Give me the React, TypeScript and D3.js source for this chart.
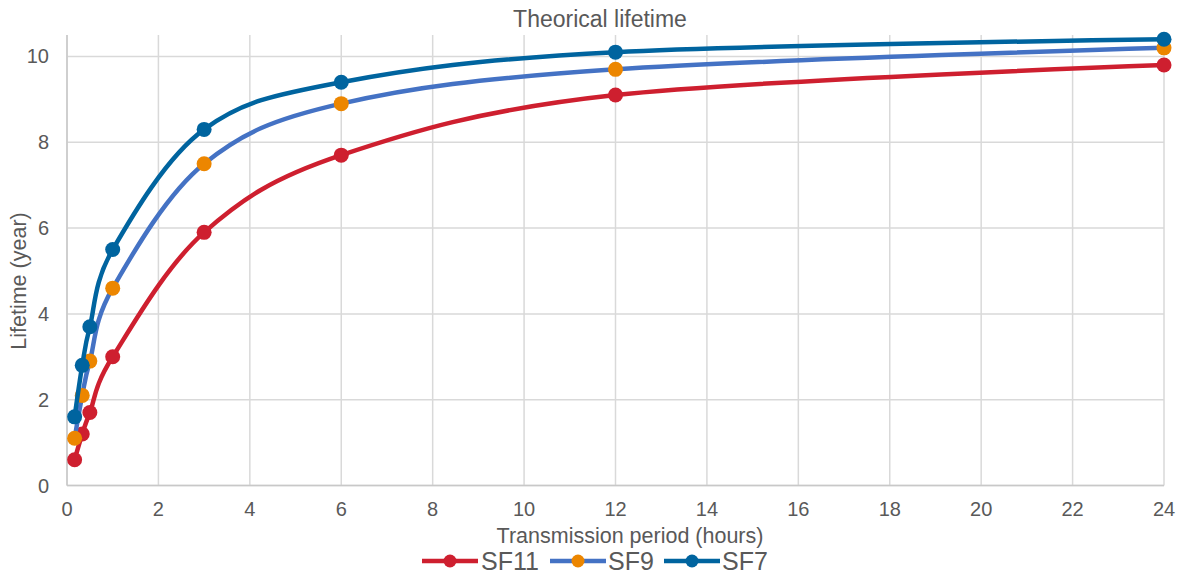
import React from "react";
import * as d3 from "d3";

const xs = [1 / 6, 1 / 3, 0.5, 1, 3, 6, 12, 24];
const sf11 = [0.6, 1.2, 1.7, 3.0, 5.9, 7.7, 9.1, 9.8];
const sf9 = [1.1, 2.1, 2.9, 4.6, 7.5, 8.9, 9.7, 10.2];
const sf7 = [1.6, 2.8, 3.7, 5.5, 8.3, 9.4, 10.1, 10.4];
const xTicks = [0, 2, 4, 6, 8, 10, 12, 14, 16, 18, 20, 22, 24];
const yTicks = [0, 2, 4, 6, 8, 10];

const series = [
  { name: "SF11", values: sf11, line: "#CE1F2F", marker: "#CE1F2F" },
  { name: "SF9", values: sf9, line: "#4472C4", marker: "#EC8600" },
  { name: "SF7", values: sf7, line: "#00649F", marker: "#00649F" },
];

export default function App() {
  const W = 1180, H = 576;
  const x = d3.scaleLinear().domain([0, 24]).range([67, 1164]);
  const y = d3.scaleLinear().domain([0, 10.5]).range([485.5, 35]);
  const line = d3
    .line<number>()
    .x((_, i) => x(xs[i]))
    .y((d) => y(d))
    .curve(d3.curveCardinal.tension(0));
  const font = "Arial, 'Liberation Sans', sans-serif";
  const grey = "#595959";
  const legendPos = [
    { lx: 422, tx: 481 },
    { lx: 550, tx: 608 },
    { lx: 664, tx: 722 },
  ];
  return (
    <svg width={W} height={H} style={{ position: "absolute", left: 0, top: 0 }} fontFamily={font}>
      <rect width={W} height={H} fill="#fff" />
      {yTicks.map((t) => (
        <line key={"gy" + t} x1={x(0)} x2={x(24)} y1={y(t)} y2={y(t)} stroke="#d9d9d9" strokeWidth={1.5} />
      ))}
      {xTicks.map((t) => (
        <line key={"gx" + t} x1={x(t)} x2={x(t)} y1={y(0)} y2={y(10.5)} stroke="#d9d9d9" strokeWidth={1.5} />
      ))}
      <line x1={x(0)} x2={x(0)} y1={y(0)} y2={y(10.5)} stroke="#c8c8c8" strokeWidth={1.5} />
      <line x1={x(0)} x2={x(24)} y1={y(0)} y2={y(0)} stroke="#c8c8c8" strokeWidth={1.5} />
      {yTicks.map((t) => (
        <text key={"ty" + t} x={x(0) - 18} y={y(t)} dy="0.35em" textAnchor="end" fontSize={20} fill={grey}>
          {t}
        </text>
      ))}
      {xTicks.map((t) => (
        <text key={"tx" + t} x={x(t)} y={509} dy="0.35em" textAnchor="middle" fontSize={20} fill={grey}>
          {t}
        </text>
      ))}
      <text x={600} y={19} dy="0.35em" textAnchor="middle" fontSize={23} fill={grey}>
        Theorical lifetime
      </text>
      <text x={630} y={535} dy="0.35em" textAnchor="middle" fontSize={21.5} fill={grey}>
        Transmission period (hours)
      </text>
      <text transform="translate(18,281) rotate(-90)" dy="0.35em" textAnchor="middle" fontSize={21.5} fill={grey}>
        Lifetime (year)
      </text>
      {series.map((s) => (
        <g key={s.name}>
          <path d={line(s.values) || ""} fill="none" stroke={s.line} strokeWidth={4.5} strokeLinejoin="round" />
          {s.values.map((v, i) => (
            <circle key={i} cx={x(xs[i])} cy={y(v)} r={7.5} fill={s.marker} />
          ))}
        </g>
      ))}
      {series.map((s, i) => (
        <g key={"lg" + s.name}>
          <line x1={legendPos[i].lx} x2={legendPos[i].lx + 56} y1={561} y2={561} stroke={s.line} strokeWidth={4.5} />
          <circle cx={legendPos[i].lx + 28} cy={561} r={6.5} fill={s.marker} />
          <text x={legendPos[i].tx} y={561} dy="0.35em" fontSize={25} fill={grey}>
            {s.name}
          </text>
        </g>
      ))}
    </svg>
  );
}
